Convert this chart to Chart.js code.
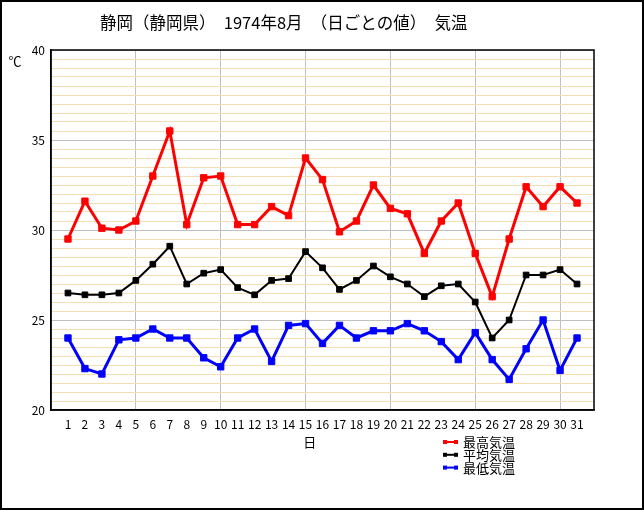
<!DOCTYPE html>
<html><head><meta charset="utf-8">
<script src="https://cdn.jsdelivr.net/npm/chart.js@4.4.1/dist/chart.umd.min.js"></script>
<style>html,body{margin:0;padding:0;background:#fff;overflow:hidden}canvas{display:block}</style>
</head><body><canvas id="c" width="644" height="510"></canvas>
<script>
const titleText = '静岡（静岡県）　1974年8月　（日ごとの値）　気温';
const days = [1,2,3,4,5,6,7,8,9,10,11,12,13,14,15,16,17,18,19,20,21,22,23,24,25,26,27,28,29,30,31];
const seriesNames = ['最高気温', '平均気温', '最低気温'];
const maxTemp = [29.5,31.6,30.1,30.0,30.5,33.0,35.5,30.3,32.9,33.0,30.3,30.3,31.3,30.8,34.0,32.8,29.9,30.5,32.5,31.2,30.9,28.7,30.5,31.5,28.7,26.3,29.5,32.4,31.3,32.4,31.5];
const avgTemp = [26.5,26.4,26.4,26.5,27.2,28.1,29.1,27.0,27.6,27.8,26.8,26.4,27.2,27.3,28.8,27.9,26.7,27.2,28.0,27.4,27.0,26.3,26.9,27.0,26.0,24.0,25.0,27.5,27.5,27.8,27.0];
const minTemp = [24.0,22.3,22.0,23.9,24.0,24.5,24.0,24.0,22.9,22.4,24.0,24.5,22.7,24.7,24.8,23.7,24.7,24.0,24.4,24.4,24.8,24.4,23.8,22.8,24.3,22.8,21.7,23.4,25.0,22.2,24.0];
const yTickLabels = [20, 25, 30, 35, 40];

const FONT = "'Noto Sans CJK JP', 'Noto Sans', sans-serif";
Chart.defaults.font.family = FONT;
Chart.defaults.color = '#000';

const colors = ['#ff0000', '#000000', '#0000ff'];
const widths = [3, 2, 3];
const allSeries = [maxTemp, avgTemp, minTemp];

const datasets = allSeries.map((arr, i) => ({
  label: seriesNames[i],
  data: arr.map((v, j) => ({x: days[j], y: v})),
  borderColor: colors[i],
  backgroundColor: colors[i],
  borderWidth: widths[i],
  pointStyle: 'rect',
  pointRadius: i === 1 ? 4 : 4.5,
  pointBorderWidth: 1,
  pointHoverRadius: 4.5,
  tension: 0
}));

const decor = {
  id: 'decor',
  afterDraw(chart) {
    const ctx = chart.ctx;
    const a = chart.chartArea;
    ctx.save();
    // plot frame
    ctx.strokeStyle = '#000';
    ctx.lineWidth = 1.5;
    ctx.strokeRect(a.left, a.top, a.right - a.left, a.bottom - a.top);
    // outer frame
    ctx.lineWidth = 2;
    ctx.strokeRect(1, 1, chart.width - 2, chart.height - 2);
    // title
    ctx.fillStyle = '#000';
    ctx.font = '16.5px ' + FONT;
    ctx.textAlign = 'left';
    ctx.textBaseline = 'middle';
    ctx.fillText(titleText, 100, 23);
    // unit
    ctx.font = '13px ' + FONT;
    ctx.textAlign = 'center';
    ctx.fillText('℃', 15, 61);
    // x title
    const xs = chart.scales.x;
    ctx.font = '13px ' + FONT;
    ctx.fillText('日', xs.getPixelForValue(15.25), 442);
    // legend
    ctx.textAlign = 'left';
    ctx.font = '13px ' + FONT;
    seriesNames.forEach((n, i) => {
      const y = 442 + i * 12.8;
      ctx.strokeStyle = colors[i];
      ctx.fillStyle = colors[i];
      ctx.lineWidth = 2;
      ctx.beginPath(); ctx.moveTo(445, y); ctx.lineTo(456, y); ctx.stroke();
      ctx.fillRect(443, y - 2, 4, 4);
      ctx.fillRect(454, y - 2, 4, 4);
      ctx.fillStyle = '#000';
      ctx.fillText(n, 463, y);
    });
    ctx.restore();
  }
};

new Chart(document.getElementById('c'), {
  type: 'line',
  data: {datasets},
  options: {
    responsive: false,
    animation: false,
    devicePixelRatio: 1,
    layout: {padding: {top: 50, right: 50, left: 0, bottom: 0}},
    plugins: {legend: {display: false}, tooltip: {enabled: false}, title: {display: false}},
    scales: {
      x: {
        type: 'linear', min: 0, max: 32,
        afterFit(s) { s.height = 100; },
        ticks: {
          stepSize: 1, autoSkip: false, maxRotation: 0, padding: 7,
          font: {size: 12},
          callback: v => days.includes(v) ? String(v) : ''
        },
        grid: {
          drawTicks: false,
          color: c => (c.tick && c.tick.value % 5 === 0 && c.tick.value > 0 && c.tick.value < 32) ? '#c0c0c0' : 'rgba(0,0,0,0)',
          lineWidth: 1
        },
        border: {display: true, color: '#000', width: 1.5}
      },
      y: {
        min: 20, max: 40,
        afterFit(s) { s.width = 51; },
        ticks: {
          stepSize: 0.5, autoSkip: false, padding: 6,
          font: {size: 12},
          callback: v => yTickLabels.includes(v) ? String(v) : ''
        },
        grid: {
          drawTicks: false,
          color: c => (c.tick && c.tick.value % 5 === 0) ? '#c0c0c0' : '#f5deb3',
          lineWidth: 1
        },
        border: {display: true, color: '#000', width: 1.5}
      }
    }
  },
  plugins: [decor]
});
</script>
</body></html>
